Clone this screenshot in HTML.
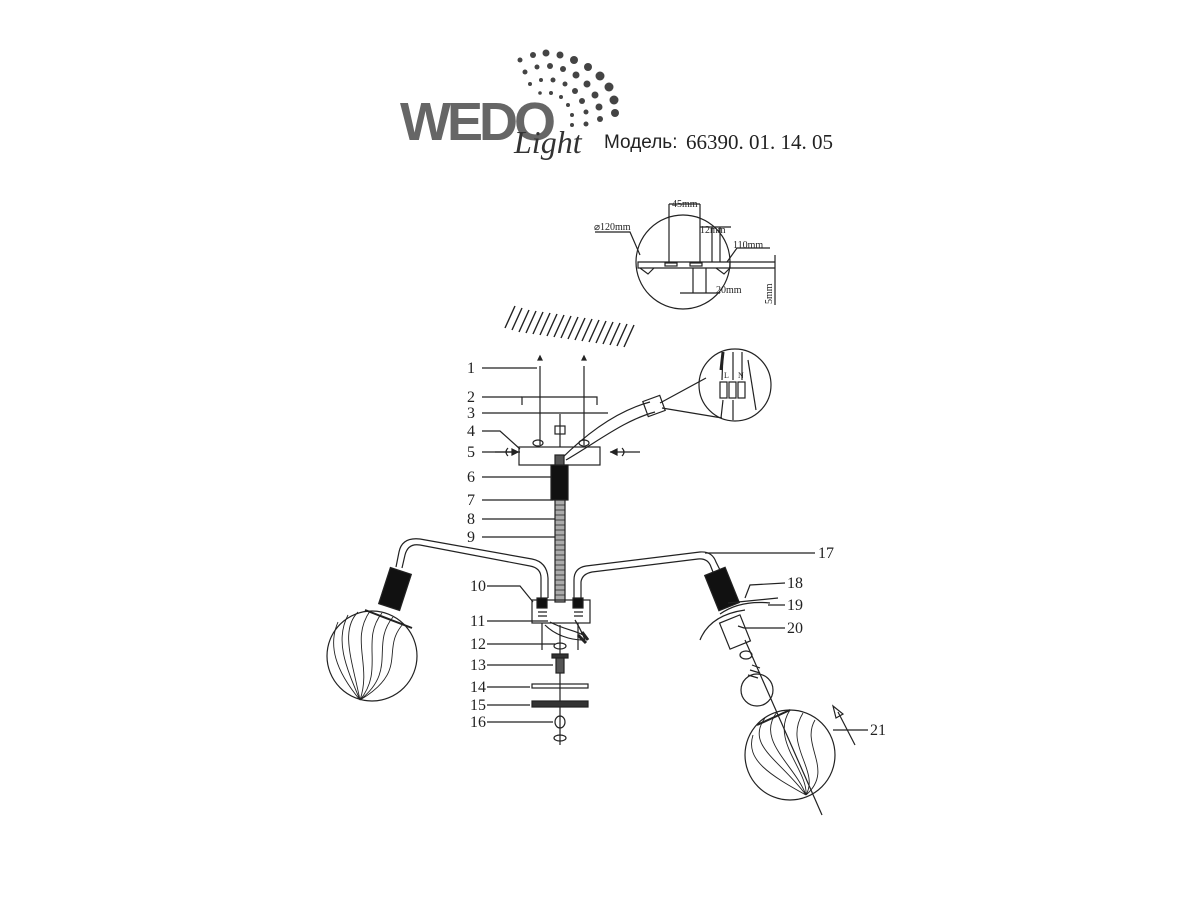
<!DOCTYPE html>
<html><head><meta charset="utf-8"><style>
html,body{margin:0;padding:0;background:#fff}
svg{display:block}
text{font-family:"Liberation Serif",serif;fill:#222}
</style></head><body>
<svg width="1200" height="900" viewBox="0 0 1200 900" xmlns="http://www.w3.org/2000/svg">
<rect width="1200" height="900" fill="#fff"/>
<!-- Logo -->
<g>
<g fill="#444">
<circle cx="520" cy="60" r="2.5"/><circle cx="533" cy="55" r="3"/><circle cx="546" cy="53" r="3.5"/><circle cx="560" cy="55" r="3.5"/><circle cx="574" cy="60" r="4"/><circle cx="588" cy="67" r="4"/><circle cx="600" cy="76" r="4.5"/><circle cx="609" cy="87" r="4.5"/><circle cx="614" cy="100" r="4.5"/><circle cx="615" cy="113" r="4"/>
<circle cx="525" cy="72" r="2.5"/><circle cx="537" cy="67" r="2.5"/><circle cx="550" cy="66" r="3"/><circle cx="563" cy="69" r="3"/><circle cx="576" cy="75" r="3.5"/><circle cx="587" cy="84" r="3.5"/><circle cx="595" cy="95" r="3.5"/><circle cx="599" cy="107" r="3.5"/><circle cx="600" cy="119" r="3"/>
<circle cx="530" cy="84" r="2"/><circle cx="541" cy="80" r="2"/><circle cx="553" cy="80" r="2.5"/><circle cx="565" cy="84" r="2.5"/><circle cx="575" cy="91" r="3"/><circle cx="582" cy="101" r="3"/><circle cx="586" cy="112" r="2.5"/><circle cx="586" cy="124" r="2.5"/>
<circle cx="540" cy="93" r="1.8"/><circle cx="551" cy="93" r="2"/><circle cx="561" cy="97" r="2"/><circle cx="568" cy="105" r="2"/><circle cx="572" cy="115" r="2"/><circle cx="572" cy="125" r="2"/>
</g>
<text x="400" y="140" style="font-family:'Liberation Sans',sans-serif;font-weight:bold;font-size:54px;letter-spacing:-4px;fill:#666">WEDO</text>
<text x="514" y="153" style="font-family:'Liberation Serif',serif;font-style:italic;font-size:32px;fill:#333">Light</text>
<text x="604" y="148" style="font-family:'Liberation Sans',sans-serif;font-size:19px;fill:#222">Модель:</text>
<text x="686" y="149" style="font-family:'Liberation Serif',serif;font-size:21px;fill:#222">66390. 01. 14. 05</text>
</g>

<g stroke="#222" fill="none" stroke-width="1.2">
<!-- inset -->
<circle cx="683" cy="262" r="47"/>
<path d="M638 262 L730 262 L730 268 L638 268Z"/>
<path d="M640 268 l8 6 l6 -6 M716 268 l8 6 l6-6"/>
<rect x="665" y="263" width="12" height="3"/><rect x="690" y="263" width="12" height="3"/>
<path d="M669 204 L669 263 M700 204 L700 263 M669 204 L700 204"/>
<path d="M700 227 L731 227 M712 227 L712 262 M720 227 L720 262"/>
<path d="M727 262 L737 248 L770 248"/>
<path d="M730 262 L775 262 M730 268 L775 268 M775 255 L775 268 M775 268 L775 305"/>
<path d="M693 268 L693 293 M706 268 L706 293 M680 293 L720 293"/>
<path d="M640 255 L630 232 L595 232"/>
<!-- hatch -->
<g stroke-width="1.4">
<path d="M505 328 l10 -22 M512 330 l10 -22 M519 332 l10 -22 M526 333 l10 -22 M533 334 l10 -22 M540 335 l10 -22 M547 336 l10 -22 M554 337 l10 -22 M561 338 l10 -22 M568 339 l10 -22 M575 340 l10 -22 M582 341 l10 -22 M589 342 l10 -22 M596 343 l10 -22 M603 344 l10 -22 M610 345 l10 -22 M617 346 l10 -22 M624 347 l10 -22"/>
</g>
<!-- leader lines left -->
<path d="M482 368 L537 368 M482 397 L522 397 M482 413 L608 413 M482 431 L500 431 L520 449 M482 452 L520 452 M482 477 L553 477 M482 500 L553 500 M482 519 L555 519 M482 537 L555 537"/>
<path d="M487 586 L520 586 L533 602 M487 621 L548 621 M487 644 L555 644 M487 665 L553 665 M487 687 L530 687 M487 705 L530 705 M487 722 L553 722"/>
<!-- screws 1 -->
<path d="M540 366 L540 445 M584 366 L584 445"/>
<path d="M538 360 l2 -4 l2 4 z M582 360 l2 -4 l2 4z" fill="#222"/>
<!-- bracket 2 -->
<path d="M522 405 L522 397 L597 397 L597 405"/>
<!-- 3 -->
<path d="M560 414 L560 447"/><rect x="555" y="426" width="10" height="8"/>
<ellipse cx="538" cy="443" rx="5" ry="3"/><ellipse cx="584" cy="443" rx="5" ry="3"/>
<!-- canopy -->
<rect x="519" y="447" width="81" height="18"/>
<path d="M495 452 L512 452 M610 452 L640 452"/>
<path d="M512 449 l6 3 l-6 3z M617 449 l-6 3 l6 3z" fill="#222"/>
<path d="M508 448 q-4 4 0 8 M622 448 q4 4 0 8"/>
<!-- wires -->
<path d="M560 460 C590 430 620 410 650 402 M566 460 C600 440 625 420 655 412"/>
<rect x="645" y="398" width="18" height="16" transform="rotate(-20 654 406)"/>
<path d="M660 403 L706 378 M662 408 L722 418"/>
<circle cx="735" cy="385" r="36"/>
<rect x="720" y="382" width="7" height="16"/><rect x="729" y="382" width="7" height="16"/><rect x="738" y="382" width="7" height="16"/>
<path d="M723 352 L722 380 M733 352 L733 380 M742 352 L742 380 M723 400 L721 418 M733 400 L733 420 M748 360 L756 410"/>
<path d="M723 352 L721 370" stroke-width="3"/>
<text x="724" y="378" style="font-size:8px" stroke="none">L</text><text x="738" y="378" style="font-size:8px" stroke="none">N</text>
<!-- pipe -->
<rect x="551" y="465" width="17" height="35" fill="#111"/>
<rect x="555" y="455" width="9" height="10" fill="#555"/>
<rect x="555" y="500" width="10" height="102" fill="#aaa"/>
<path d="M555 505 h10 M555 510 h10 M555 515 h10 M555 520 h10 M555 525 h10 M555 530 h10 M555 535 h10 M555 540 h10 M555 545 h10 M555 550 h10 M555 555 h10 M555 560 h10 M555 565 h10 M555 570 h10 M555 575 h10 M555 580 h10 M555 585 h10 M555 590 h10 M555 595 h10" stroke-width="0.8"/>
<!-- bottom box -->
<rect x="532" y="600" width="58" height="23"/>
<rect x="537" y="598" width="10" height="10" fill="#111"/><rect x="573" y="598" width="10" height="10" fill="#111"/>
<path d="M538 612 h9 M538 616 h9 M574 612 h9 M574 616 h9 M542 623 L542 650 M578 623 L578 650"/>
<path d="M545 625 C555 635 570 640 583 640 M550 622 C565 630 575 630 585 636 M575 620 C580 628 583 635 585 640" />
<path d="M578 635 l8 8 M582 632 l6 8" stroke-width="3"/>
<!-- 12-16 -->
<path d="M560 625 L560 745"/>
<ellipse cx="560" cy="646" rx="6" ry="3"/>
<rect x="556" y="655" width="8" height="18" fill="#555"/><rect x="552" y="654" width="16" height="4" fill="#333"/>
<rect x="532" y="684" width="56" height="4"/>
<rect x="532" y="701" width="56" height="6" fill="#333"/>
<ellipse cx="560" cy="722" rx="5" ry="6"/>
<ellipse cx="560" cy="738" rx="6" ry="3"/>
<!-- left arm -->
<path d="M541 598 L541 578 Q541 568 530 566 L420 545 Q408 543 405 555 L402 568"/>
<path d="M548 598 L548 578 Q547 562 532 559 L420 539 Q402 537 399 552 L396 567"/>
<rect x="384" y="570" width="22" height="38" fill="#111" transform="rotate(18 395 589)"/>
<path d="M365 610 L412 628" stroke-width="2"/>
<circle cx="372" cy="656" r="45"/>
<path d="M358 612 C340 630 352 660 360 700 M370 611 C350 640 372 665 360 700 M382 613 C360 640 385 670 360 700 M393 617 C370 645 398 670 360 700 M403 624 C380 650 410 670 360 700 M348 615 C335 640 345 665 360 700 M338 622 C328 645 335 670 360 700" stroke-width="0.9"/>
<!-- right arm -->
<path d="M574 598 L574 580 Q574 568 586 566 L700 552 Q712 551 716 562 L720 570"/>
<path d="M581 598 L581 582 Q582 574 592 572 L698 559 Q708 558 711 567 L713 572"/>
<rect x="711" y="570" width="22" height="38" fill="#111" transform="rotate(-22 722 589)"/>
<path d="M720 614 Q740 600 770 603 M700 640 Q710 615 745 610" />
<path d="M728 603 L778 598"/>
<rect x="724" y="618" width="22" height="28" transform="rotate(-22 735 632)"/>
<ellipse cx="746" cy="655" rx="6" ry="4"/>
<path d="M752 665 l8 3 M750 670 l10 3 M748 675 l10 3" />
<circle cx="757" cy="690" r="16"/>
<path d="M745 640 L822 815"/>
<circle cx="790" cy="755" r="45"/>
<path d="M757 725 L790 710" stroke-width="2"/>
<path d="M765 718 C745 745 780 760 806 795 M777 712 C755 740 795 765 806 795 M790 710 C770 740 808 770 806 795 M803 713 C783 745 820 770 806 795 M815 720 C800 745 835 770 806 795 M753 735 C745 760 770 775 806 795" stroke-width="0.9"/>
<path d="M855 745 L838 712 M833 706 l3 12 l7 -4z"/>
<!-- right leaders -->
<path d="M705 553 L815 553 M745 598 L750 585 L785 583 M768 605 L785 605 M738 626 L744 628 L785 628 M833 730 L868 730"/>
</g>
<g style="font-size:16px">
<text x="467" y="373">1</text><text x="467" y="402">2</text><text x="467" y="418">3</text><text x="467" y="436">4</text><text x="467" y="457">5</text><text x="467" y="482">6</text><text x="467" y="505">7</text><text x="467" y="524">8</text><text x="467" y="542">9</text>
<text x="470" y="591">10</text><text x="470" y="626">11</text><text x="470" y="649">12</text><text x="470" y="670">13</text><text x="470" y="692">14</text><text x="470" y="710">15</text><text x="470" y="727">16</text>
<text x="818" y="558">17</text><text x="787" y="588">18</text><text x="787" y="610">19</text><text x="787" y="633">20</text><text x="870" y="735">21</text>
</g>
<g style="font-size:10px">
<text x="594" y="230">⌀120mm</text><text x="672" y="207">45mm</text><text x="700" y="233">12mm</text><text x="733" y="248">110mm</text><text x="716" y="293">20mm</text>
<text x="0" y="0" transform="translate(772 304) rotate(-90)">5mm</text>
</g>
</svg>
</body></html>
